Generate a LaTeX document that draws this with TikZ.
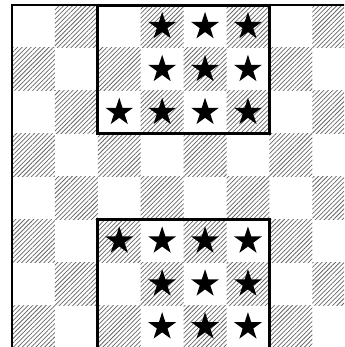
\documentclass[tikz,border=0pt]{standalone}
\usetikzlibrary{patterns.meta,shapes.geometric}
\begin{document}
\begin{tikzpicture}[x=1cm,y=1cm,
  hatch/.style={pattern={Lines[angle=45,distance=2.1pt,line width=0.5pt]},pattern color=black!60},
  starnode/.style={star,star points=5,star point ratio=2.618,fill=black,draw=none,inner sep=0pt,minimum size=0.68cm},
  boxframe/.style={draw=black,line width=2pt},
  border/.style={draw=black,line width=1.3pt}]
\useasboundingbox (-0.28,-7.972) rectangle (7.739,0.117);
\clip (-0.28,-7.972) rectangle (7.739,0.117);
% checkerboard hatching
\foreach \r in {0,...,7}{
  \foreach \c in {0,...,7}{
    \pgfmathtruncatemacro{\parity}{mod(\r+\c,2)}
    \ifnum\parity=1
      \path[hatch] (\c,-\r) rectangle ++(1,-1);
    \fi
  }
}
% stars
\foreach \r/\c in {0/3,0/4,0/5,1/3,1/4,1/5,2/2,2/3,2/4,2/5,
                   5/2,5/3,5/4,5/5,6/3,6/4,6/5,7/3,7/4,7/5}{
  \node[starnode] (s-\r-\c) at (\c+0.5,-\r-0.5) {};
}
% boxes
\draw[boxframe] (2,0) rectangle (6,-3);
\draw[boxframe] (2,-5) rectangle (6,-8);
% board border
\draw[border] (0,-8.2) -- (0,0) -- (8.2,0);
\end{tikzpicture}
\end{document}
